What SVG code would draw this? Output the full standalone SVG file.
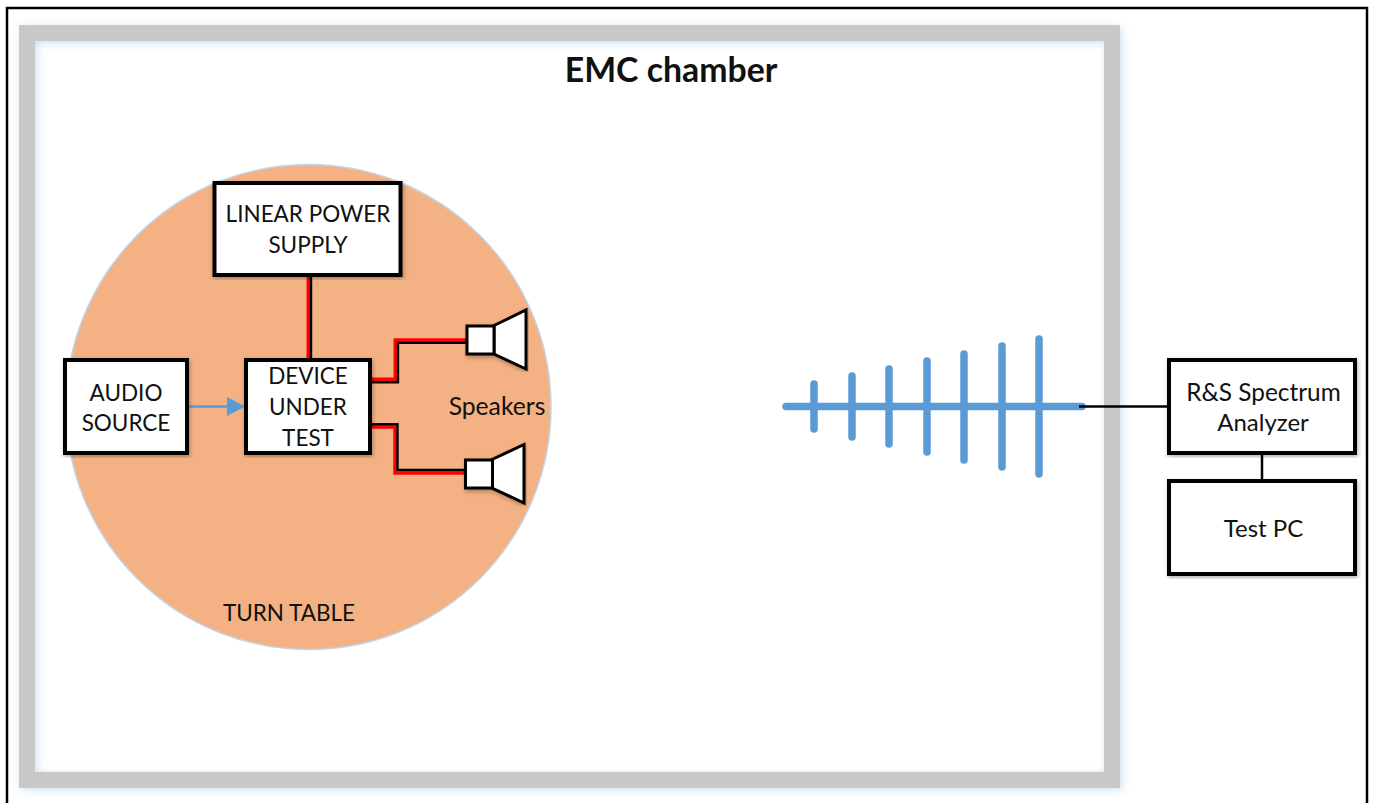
<svg xmlns="http://www.w3.org/2000/svg" width="1373" height="803" viewBox="0 0 1373 803">
<style>
text{font-family:Lato,"Liberation Sans",sans-serif;font-size:24px;fill:#111;text-anchor:middle}
.caps{font-size:22.500px}
.box{fill:#fff;stroke:#000;stroke-width:4}
.thin{fill:#fff;stroke:#000;stroke-width:3}
.red{fill:none;stroke:#f00;stroke-width:3.500}
.blk{fill:none;stroke:#000;stroke-width:2.400}
.ant{stroke:#5b9bd5;stroke-width:7.500;stroke-linecap:round;fill:none}
</style>
<defs>
<filter id="sh" x="-5%" y="-5%" width="110%" height="110%"><feDropShadow dx="1" dy="2" stdDeviation="2" flood-color="#000" flood-opacity="0.3"/></filter>
<filter id="glow" x="-5%" y="-5%" width="110%" height="110%"><feDropShadow dx="2" dy="2" stdDeviation="4" flood-color="#5b9bd5" flood-opacity="0.3"/></filter>
</defs>
<rect width="1373" height="803" fill="#fff"/>
<path id="frame" d="M7 803V8H1367V803" fill="none" stroke="#000" stroke-width="2.500"/>
<g id="chamber">
<rect x="27" y="33" width="1085" height="747" fill="none" stroke="#c8c8c8" stroke-width="16" filter="url(#glow)"/>
<text x="671" y="82" style="font-size:33.800px;font-weight:700">EMC chamber</text>
</g>
<g id="turntable">
<circle cx="308.500" cy="407" r="242.500" fill="#f4b183" stroke="#c3d5e8" stroke-width="1.500"/>
<text class="caps" x="289" y="621">TURN TABLE</text>
</g>
<g id="connectors">
<path class="red" d="M308.300 277V358"/>
<path class="blk" d="M311 277V358"/>
<path class="red" d="M371 379.300H395.300V340H466"/>
<path class="blk" d="M371 382.200H398V342.800H466"/>
<path class="red" d="M371 427H395V473H465"/>
<path class="blk" d="M371 424.200H397.500V470H465"/>
<path d="M189 406.500H228" stroke="#5b9bd5" stroke-width="2.500" fill="none"/>
<path d="M227 397L245 406.500L227 416Z" fill="#5b9bd5"/>
<path d="M1262 455V479" stroke="#000" stroke-width="2.500"/>
</g>
<g id="power-supply">
<rect class="box" x="214.500" y="183" width="186" height="92" filter="url(#sh)"/>
<text class="caps" x="308" y="222">LINEAR POWER</text><text class="caps" x="308" y="253">SUPPLY</text>
</g>
<g id="audio-source">
<rect class="box" x="65" y="360" width="122" height="93" filter="url(#sh)"/>
<text class="caps" x="126" y="401">AUDIO</text><text class="caps" x="126" y="431">SOURCE</text>
</g>
<g id="device">
<rect class="box" x="246" y="360" width="124" height="93" filter="url(#sh)"/>
<text class="caps" x="308" y="384">DEVICE</text><text class="caps" x="308" y="415">UNDER</text><text class="caps" x="308" y="446">TEST</text>
</g>
<g id="speaker-1" filter="url(#sh)">
<path class="thin" d="M494 325.500L526 310V369L494 354Z"/>
<rect class="thin" x="467" y="326" width="27" height="28"/>
</g>
<g id="speaker-2" filter="url(#sh)">
<path class="thin" d="M492 459.500L524 444.500V503L492 488Z"/>
<rect class="thin" x="465.500" y="460" width="27" height="28"/>
</g>
<text id="speakers-label" x="497" y="415" style="font-size:24.700px">Speakers</text>
<g id="antenna">
<path class="ant" d="M786 406.500H1082"/>
<path class="ant" d="M814 384V429M852 376V437M889 369V444M927 361V452M964 354V460M1002 346V467M1039 339V474"/>
<path d="M1079 406.500H1167" stroke="#000" stroke-width="2.500"/>
</g>
<g id="analyzer">
<rect class="box" x="1169" y="360" width="186" height="93" filter="url(#sh)"/>
<text x="1263.500" y="401" style="font-size:24.400px">R&amp;S Spectrum</text><text x="1263" y="431">Analyzer</text>
</g>
<g id="test-pc">
<rect class="box" x="1169" y="481" width="186" height="93" filter="url(#sh)"/>
<text x="1263.500" y="537">Test PC</text>
</g>
</svg>
